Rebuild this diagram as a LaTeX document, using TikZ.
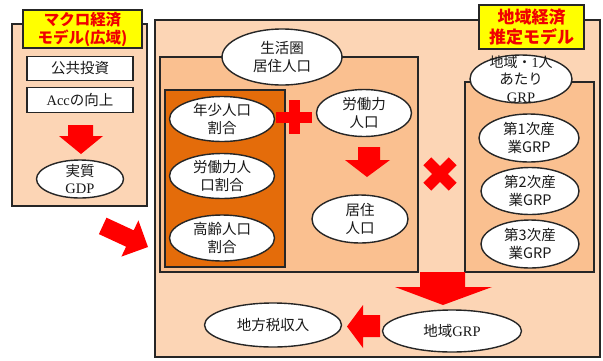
\documentclass[tikz,border=0pt]{standalone}
\usepackage{fontspec}
\setmainfont{Noto Sans CJK JP}
\newfontfamily\latf{Liberation Serif}
\usetikzlibrary{shapes.geometric}
\definecolor{lpeach}{HTML}{FCD5B5}
\definecolor{mpeach}{HTML}{FAC090}
\definecolor{dorange}{HTML}{E46C0A}
\definecolor{edge}{HTML}{262626}
\definecolor{ttlyel}{HTML}{FFFF00}
\definecolor{ttlred}{HTML}{F00000}
\newcommand\ellx[5]{%
  \node[ell, minimum width=#3, minimum height=#4] (#1) at (#2) {};
  \node[txt] (#1-t) at (#1.center) {#5};}
\begin{document}
\begin{tikzpicture}[x=1pt,y=-1pt,
  bx/.style={draw=edge, line width=1.4pt},
  ell/.style={ellipse, draw=edge, line width=1.4pt, fill=white, inner sep=0pt},
  txt/.style={inner sep=0pt, align=center, text=black!90, font=\fontsize{14.5}{17.5}\selectfont},
  wbox/.style={rectangle, draw=edge, line width=1.4pt, fill=white, inner sep=0pt, align=center, text=black!90, font=\fontsize{14.5}{17.5}\selectfont},
  ttl/.style={rectangle, draw=edge, line width=1.4pt, fill=ttlyel, inner sep=0pt, align=center, text=ttlred},
  blk/.style={fill=red}]
\useasboundingbox (0,0) rectangle (603,360);
% main frames
\draw[bx, fill=lpeach] (155,20) rectangle (600,357);
\draw[bx, fill=lpeach] (12,24) rectangle (147,206);
\draw[bx, fill=mpeach] (160,57) rectangle (418,272);
\draw[bx, fill=dorange] (165,90) rectangle (285,267);
\draw[bx, fill=mpeach] (465,82) rectangle (594,272);
% titles
\node[ttl, minimum width=119, minimum height=38, font=\bfseries\fontsize{15.5}{18}\selectfont] (ltitle) at (82.5,29) {マクロ経済\\モデル(広域)};
\node[ttl, minimum width=105, minimum height=44, font=\bfseries\fontsize{17}{20}\selectfont] (rtitle) at (531.5,27) {地域経済\\推定モデル};
% left box content
\node[wbox, minimum width=106, minimum height=24] (kokyo) at (80,68.5) {公共投資};
\node[wbox, minimum width=106, minimum height=25] (acc) at (80,100) {{\latf Acc}の向上};
\fill[blk] (68,125) -- (93,125) -- (93,136) -- (103,136) -- (81,154) -- (59,136) -- (68,136) -- cycle;
\ellx{gdp}{80,179}{87}{38}{実質\\{\latf GDP}}
% middle
\ellx{seikatsu}{282,57}{120}{56}{生活圏\\居住人口}
\ellx{nensho}{222,119}{105}{45}{年少人口\\割合}
\ellx{rodowari}{222,176}{105}{45}{労働力人\\口割合}
\ellx{korei}{222,238}{105}{46}{高齢人口\\割合}
\ellx{rodojinko}{364,113}{95}{47}{労働力\\人口}
\ellx{kyoju}{360,219}{96}{48}{居住\\人口}
% plus
\fill[blk] (276,111.5) rectangle (312,122.5);
\fill[blk] (288.5,100) rectangle (299.5,134);
% mid arrow
\fill[blk] (358,147) -- (380,147) -- (380,160) -- (390,160) -- (367,177) -- (345,160) -- (358,160) -- cycle;
% times
\begin{scope}[shift={(440,174)}, rotate=45]
  \fill[blk] (-18,-5.5) rectangle (18,5.5);
  \fill[blk] (-5.5,-18) rectangle (5.5,18);
\end{scope}
% right
\ellx{chiki1}{521,79}{102}{48}{\fontsize{14}{15.5}\selectfont 地域・{\latf 1}人\\あたり\\{\latf GRP}}
\ellx{dai1}{529,138}{100}{48}{第1次産\\業GRP}
\ellx{dai2}{530,191}{98}{47}{第2次産\\業GRP}
\ellx{dai3}{530,244}{98}{48}{第3次産\\業GRP}
% big arrow
\fill[blk] (420,272) -- (465,272) -- (465,287) -- (492,287) -- (443,305) -- (395,287) -- (420,287) -- cycle;
% bottom
\ellx{chikigrp}{452,331}{139}{42}{地域{\latf GRP}}
\ellx{zei}{273,325}{137}{44}{地方税収入}
\fill[blk] (380,315) -- (380,337) -- (363,337) -- (363,348) -- (347,326.5) -- (363,305) -- (363,315) -- cycle;
% diagonal arrow
\fill[blk] (98.9,234.1) -- (126.1,246.7) -- (121.4,256.6) -- (148,247) -- (138.4,220.4) -- (133.7,230.3) -- (106.5,217.7) -- cycle;
\end{tikzpicture}
\end{document}
